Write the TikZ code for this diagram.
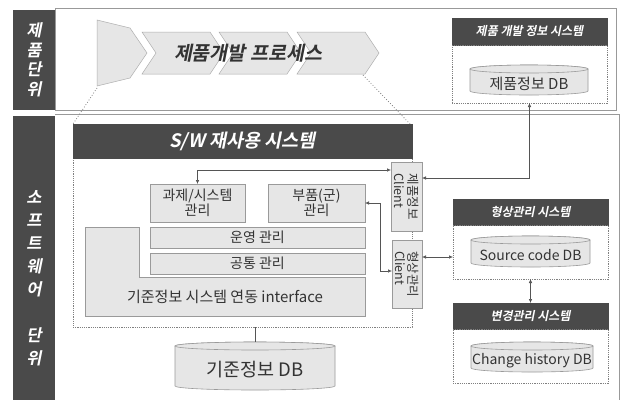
\documentclass[tikz,border=0pt]{standalone}
\usepackage{fontspec}
\setmainfont{Noto Sans CJK KR}
\newfontfamily\krhd{Noto Sans CJK KR Bold}[FakeSlant=0.2]
\usetikzlibrary{arrows.meta}

\definecolor{darkhd}{HTML}{4A4A4A}
\definecolor{lightbox}{HTML}{E6E6E6}
\definecolor{boxline}{HTML}{9A9A9A}
\definecolor{txt}{HTML}{333333}
\definecolor{lineclr}{HTML}{555555}

\newcommand{\dbcyl}[7]{%
  \node[minimum width=#4pt, minimum height=#5pt] (#1) at (#2,#3) {};
  \path[dbshape] ([yshift=-4pt]#1.north west) -- ([yshift=4pt]#1.south west)
     arc[start angle=180, end angle=360, x radius=#4pt/2, y radius=4pt]
     -- ([yshift=-4pt]#1.north east)
     arc[start angle=0, end angle=180, x radius=#4pt/2, y radius=4pt] -- cycle;
  \draw[dbshape] ([yshift=-4pt]#1.north) ellipse[x radius=#4pt/2, y radius=4pt];
  \node[font=\fontsize{#7}{#7}\selectfont, text=txt] (#1t) at ([yshift=-4pt]#1.center) {#6};
}

\begin{document}
\begin{tikzpicture}[x=1pt,y=-1pt,
  every node/.style={inner sep=0pt, outer sep=0pt},
  rect/.style n args={4}{minimum width={#3-#1}, minimum height={#4-#2}, at={({(#1+#3)/2},{(#2+#4)/2})}},
  labelbox/.style={fill=darkhd, draw=none},
  labeltext/.style={text=white, align=center},
  frame/.style={draw=gray!80, line width=0.6pt},
  hdbox/.style={fill=darkhd, draw=darkhd, text=white, font=\krhd\fontsize{12}{13}\selectfont},
  bodybox/.style={draw=gray, dash pattern=on 1.2pt off 1pt, line width=0.5pt},
  lbox/.style={fill=lightbox, draw=boxline, line width=0.6pt, text=txt, font=\fontsize{14}{15.5}\selectfont, align=center},
  lshape/.style={fill=lightbox, draw=boxline, line width=0.6pt},
  cltext/.style={rotate=-90, align=left, text=txt, font=\fontsize{12.5}{13.5}\selectfont},
  chev/.style={fill=lightbox, draw=boxline!80, line width=0.5pt},
  dbshape/.style={fill=lightbox, draw=boxline, line width=0.6pt},
  dbl/.style={draw=lineclr, line width=0.6pt, {Latex[length=4pt,width=3.5pt]}-{Latex[length=4pt,width=3.5pt]}},
  conn/.style={draw=lineclr, line width=0.6pt},
  dotl/.style={draw=gray, dotted, line width=0.8pt}
]
\useasboundingbox (0,0) rectangle (623,400);
\fill[white] (0,0) rectangle (623,400);

% ---------- top band ----------
\draw[frame] (55,8) rectangle (616,110);
\node[labelbox, rect={13}{10}{55}{110}] (lab1) {};
\node[labeltext, font=\krhd\fontsize{16.5}{19.5}\selectfont] (lab1t) at (lab1.center) {제\\품\\단\\위};

% process
\draw[chev] (97,20) -- (130,28) -- (147,53) -- (130,78) -- (97,86) -- cycle;
\foreach \x in {142,219,297}{
  \draw[chev] (\x,32) -- (\x+68,32) -- (\x+82,53) -- (\x+68,74) -- (\x,74) -- (\x+14,53) -- cycle;
}
\node[font=\krhd\fontsize{19.5}{20}\selectfont, text=txt] (proc) at (248,53) {제품개발 프로세스};

% product information system
\node[hdbox, rect={452}{18}{607}{45}] (sysh1) {제품 개발 정보 시스템};
\node[bodybox, rect={452}{45}{607}{103}] (sysb1) {};
\dbcyl{db1}{529}{80}{118}{30}{제품정보 DB}{15}

% ---------- software band ----------
\draw[frame] (55,114) -- (619,114) -- (619,400);
\node[labelbox, rect={13}{116}{55}{400}] (lab2) {};
\node[labeltext, font=\krhd\fontsize{16.5}{23}\selectfont] (lab2t) at (34,278) {소\\프\\트\\웨\\어\\[23pt]단\\위};

% dotted guide lines
\draw[dotl] (97,88) -- (73,124);
\draw[dotl] (363,75) -- (410,124);

% S/W reuse system
\node[bodybox, rect={73}{158}{412}{327}] (swb) {};
\node[hdbox, font=\krhd\fontsize{18.5}{19}\selectfont, rect={73}{124}{412}{158}] (swh) {S/W 재사용 시스템};

\node[lbox, rect={150}{184}{245}{222}] (b1) {과제/시스템\\관리};
\node[lbox, rect={268}{184}{365}{222}] (b2) {부품(군)\\관리};
\node[lbox, rect={150}{227}{365}{248}] (b3) {운영 관리};
\node[lbox, rect={150}{253}{365}{274}] (b4) {공통 관리};
\draw[lshape] (85,227) -- (139,227) -- (139,277) -- (365,277) -- (365,316) -- (85,316) -- cycle;
\node[text=txt, font=\fontsize{15}{16}\selectfont] (iface) at (225,297) {기준정보 시스템 연동 interface};

% clients
\node[lbox, rect={391}{162}{422}{231}] (cl1) {};
\node[cltext] (cl1t) at (cl1.center) {제품정보\\Client};
\node[lbox, rect={392}{240}{422}{308}] (cl2) {};
\node[cltext] (cl2t) at (cl2.center) {형상관리\\Client};

% configuration management system
\node[hdbox, rect={453}{199}{608}{225}] (sysh2) {형상관리 시스템};
\node[bodybox, rect={453}{225}{608}{279}] (sysb2) {};
\dbcyl{db2}{530.5}{251.5}{119}{31}{Source code DB}{14}

% change management system
\node[hdbox, rect={453}{303}{608}{329}] (sysh3) {변경관리 시스템};
\node[bodybox, rect={453}{329}{608}{383}] (sysb3) {};
\dbcyl{db3}{532}{357}{122}{30}{Change history DB}{14}

% base information DB
\dbcyl{kdb}{255}{366}{160}{48}{기준정보 DB}{18.5}

% ---------- connectors ----------
\coordinate (bendx) at (380,0);
\coordinate (c1r) at ([yshift=18.5pt]cl1.east);
\coordinate (c1l) at ([yshift=26.5pt]cl1.west);
\coordinate (c2l) at ([yshift=3pt]cl2.west);
\coordinate (c2r) at ([yshift=17pt]cl2.east);
\draw[dbl] (sysb1.south) |- (c1r);
\draw[dbl] (c1l) -| (b1.north);
\draw[dbl] (b2.east) -- (b2.east -| bendx) |- (c2l);
\draw[dbl] (c2r) -- (c2r -| sysb2.west);
\draw[dbl] (sysb2.south) -- (sysh3.north);
\draw[conn] (swb.south -| kdb.north) -- (kdb.north);
\end{tikzpicture}
\end{document}
